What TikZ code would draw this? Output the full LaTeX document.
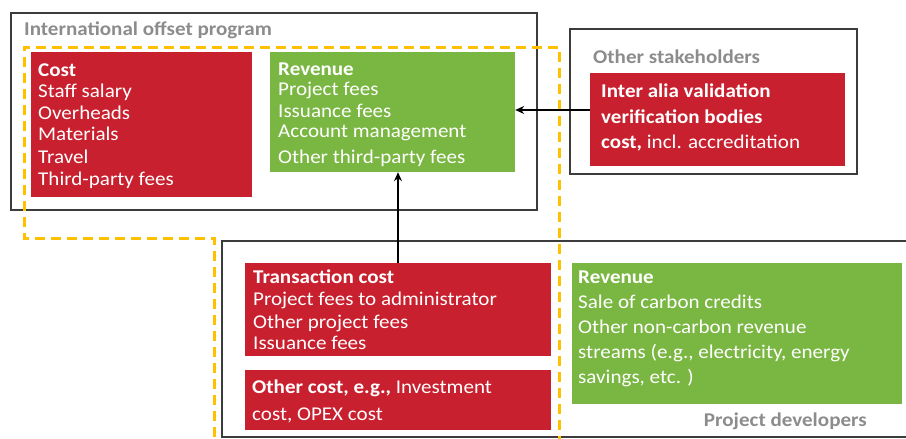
\documentclass[tikz,border=0pt]{standalone}
\usepackage{fontspec}
\setmainfont{Carlito}[FakeStretch=1.08]
\usetikzlibrary{arrows.meta}
\definecolor{cred}{RGB}{200,32,46}
\definecolor{cgreen}{RGB}{122,183,66}
\definecolor{cgray}{RGB}{140,140,140}
\definecolor{cyellow}{RGB}{255,192,0}
\definecolor{cframe}{RGB}{60,60,60}
\newcommand{\bodyfont}{\fontsize{19.5}{22}\selectfont}
\tikzset{
  frame/.style={draw=cframe, line width=1.5pt},
  redbox/.style={fill=cred},
  greenbox/.style={fill=cgreen},
  ln/.style={anchor=base west, inner sep=0pt, text=white, font=\bodyfont},
  ttl/.style={anchor=base west, inner sep=0pt, text=cgray, font=\bodyfont\bfseries},
  arr/.style={draw=black, line width=1.2pt, -{Stealth[length=9pt,width=8pt,inset=3pt]}},
  ydash/.style={draw=cyellow, line width=3pt, dash pattern=on 10pt off 6pt}
}
\begin{document}
\begin{tikzpicture}[x=1pt,y=-1pt]
\useasboundingbox (0,0) rectangle (906,439);
% containers
\draw[frame] (11,13) rectangle (537,210);
\node[ttl] (tint) at (24,35) {International offset program};
\draw[frame] (570,29) rectangle (857,174);
\node[ttl] (tos) at (593,63) {Other stakeholders};
\draw[frame] (222,241) rectangle (907,437);
\node[ttl, anchor=base east] (tpd) at (867,426) {Project developers};
% yellow dashed boundary
\draw[ydash] (214,437) -- (214,238) -- (24,238) -- (24,47) -- (559,47) -- (559,439);
% boxes
\path[redbox] (31,52) rectangle (252,197);
\path[greenbox] (270,52) rectangle (515,172);
\node[inner sep=0pt, minimum width=245pt, minimum height=120pt] (r1) at (392.5,112) {};
\path[redbox] (590,73) rectangle (845,166);
\node[inner sep=0pt, minimum width=255pt, minimum height=93pt] (s1) at (717.5,119.5) {};
\path[redbox] (245,263) rectangle (551,356);
\node[inner sep=0pt, minimum width=306pt, minimum height=93pt] (t1) at (398,309.5) {};
\path[redbox] (245,370) rectangle (551,430);
\path[greenbox] (572,263) rectangle (902,404);
% texts: cost
\node[ln] (a1) at (38,76) {\bfseries Cost};
\node[ln] (a2) at (38,97) {Staff salary};
\node[ln] (a3) at (38,119) {Overheads};
\node[ln] (a4) at (38,140) {Materials};
\node[ln] (a5) at (38,163) {Travel};
\node[ln] (a6) at (38,185) {Third-party fees};
% revenue program
\node[ln] (b1) at (278,75) {\bfseries Revenue};
\node[ln] (b2) at (278,95) {Project fees};
\node[ln] (b3) at (278,117) {Issuance fees};
\node[ln] (b4) at (278,137) {Account management};
\node[ln] (b5) at (278,163) {Other third-party fees};
% stakeholders
\node[ln] (s1a) at (601,97) {\bfseries Inter alia validation};
\node[ln] (s1b) at (601,123) {\bfseries verification bodies};
\node[ln] (s1c) at (601,148) {\textbf{cost,} incl. accreditation};
% transaction
\node[ln] (t1a) at (253,283) {\bfseries Transaction cost};
\node[ln] (t1b) at (253,305) {Project fees to administrator};
\node[ln] (t1c) at (253,328) {Other project fees};
\node[ln] (t1d) at (253,349) {Issuance fees};
% other cost
\node[ln] (o1a) at (252,393) {\textbf{Other cost, e.g.,} Investment};
\node[ln] (o1b) at (252,420) {cost, OPEX cost};
% revenue developers
\node[ln] (r2a) at (578,283) {\bfseries Revenue};
\node[ln] (r2b) at (578,308) {Sale of carbon credits};
\node[ln] (r2c) at (578,333) {Other non-carbon revenue};
\node[ln] (r2d) at (578,358) {streams (e.g., electricity, energy};
\node[ln] (r2e) at (578,383) {savings, etc. )};
% arrows
\draw[arr] (s1.west |- 0,110) -- (r1.east |- 0,110);
\draw[arr] (t1.north) -- (t1.north |- r1.south);
\end{tikzpicture}
\end{document}
